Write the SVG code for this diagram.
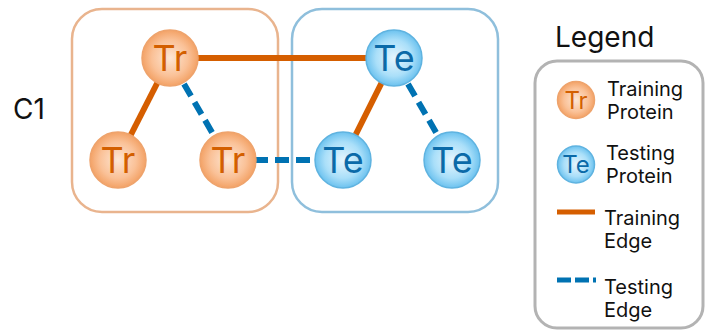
<svg xmlns="http://www.w3.org/2000/svg" width="705" height="331" viewBox="0 0 705 331">
<style>
text{font-family:Inter,"Noto Sans","Liberation Sans",sans-serif;}
.lbl{font-size:28px;fill:#111;}
.leg{font-size:20px;fill:#111;}
.tr{fill:url(#gTr);stroke:#eea36c;stroke-width:1.5;}
.te{fill:url(#gTe);stroke:#5fb3e0;stroke-width:1.5;}
.trt{fill:#d35f00;text-anchor:middle;}
.tet{fill:#0b6aa8;text-anchor:middle;}
.ntx{font-size:36px;}
.ltx{font-size:24px;}
.etr{stroke:#d55e00;stroke-width:6;fill:none;}
.ete{stroke:#0072b2;stroke-width:6;fill:none;stroke-dasharray:14 7;}
</style>
<defs>
<radialGradient id="gTr" cx="50%" cy="50%" r="50%">
<stop offset="0" stop-color="#fde6d4"/>
<stop offset="0.65" stop-color="#fac197"/>
<stop offset="1" stop-color="#f3a266"/>
</radialGradient>
<radialGradient id="gTe" cx="50%" cy="50%" r="50%">
<stop offset="0" stop-color="#e6f6fe"/>
<stop offset="0.65" stop-color="#aadff9"/>
<stop offset="1" stop-color="#6cc2ef"/>
</radialGradient>
</defs>
<text class="lbl" x="13" y="119">C1</text>
<g id="cluster-train"><rect x="72" y="9" width="206" height="203" rx="30" fill="none" stroke="#e9b48e" stroke-width="2.5"/></g>
<g id="cluster-test"><rect x="292" y="9" width="206" height="203" rx="30" fill="none" stroke="#8fbfdc" stroke-width="2.5"/></g>
<g id="connectors">
<line class="etr" x1="170" y1="58" x2="394" y2="58"/>
<line class="etr" x1="170" y1="58" x2="118" y2="160"/>
<line class="ete" x1="184" y1="84" x2="228" y2="160"/>
<line class="ete" x1="254" y1="160" x2="343" y2="160"/>
<line class="etr" x1="394" y1="58" x2="343" y2="160"/>
<line class="ete" x1="408" y1="84" x2="452" y2="160"/>
</g>
<g id="n-tr1"><circle class="tr" cx="170" cy="58" r="28"/><text class="trt ntx" x="170" y="71">Tr</text></g>
<g id="n-tr2"><circle class="tr" cx="118" cy="160" r="28"/><text class="trt ntx" x="118" y="173">Tr</text></g>
<g id="n-tr3"><circle class="tr" cx="228" cy="160" r="28"/><text class="trt ntx" x="228" y="173">Tr</text></g>
<g id="n-te1"><circle class="te" cx="394" cy="58" r="28"/><text class="tet ntx" x="394" y="71">Te</text></g>
<g id="n-te2"><circle class="te" cx="343" cy="160" r="28"/><text class="tet ntx" x="343" y="173">Te</text></g>
<g id="n-te3"><circle class="te" cx="452" cy="160" r="28"/><text class="tet ntx" x="452" y="173">Te</text></g>
<g id="legend">
<text class="lbl" x="555" y="47">Legend</text>
<rect x="535" y="61" width="168" height="267" rx="22" fill="none" stroke="#b3b3b3" stroke-width="3"/>
<circle class="tr" cx="576" cy="100" r="18.5"/><text class="trt ltx" x="576" y="109">Tr</text>
<text class="leg" x="607" y="96">Training</text><text class="leg" x="607" y="119">Protein</text>
<circle class="te" cx="576" cy="164.5" r="18.5"/><text class="tet ltx" x="576" y="173">Te</text>
<text class="leg" x="606" y="160">Testing</text><text class="leg" x="606" y="183">Protein</text>
<line x1="557" y1="212" x2="595" y2="212" stroke="#d55e00" stroke-width="5"/>
<text class="leg" x="604" y="225">Training</text><text class="leg" x="604" y="248">Edge</text>
<line x1="557" y1="280" x2="596" y2="280" stroke="#0072b2" stroke-width="5" stroke-dasharray="14 4"/>
<text class="leg" x="604" y="294">Testing</text><text class="leg" x="604" y="317">Edge</text>
</g>
</svg>
